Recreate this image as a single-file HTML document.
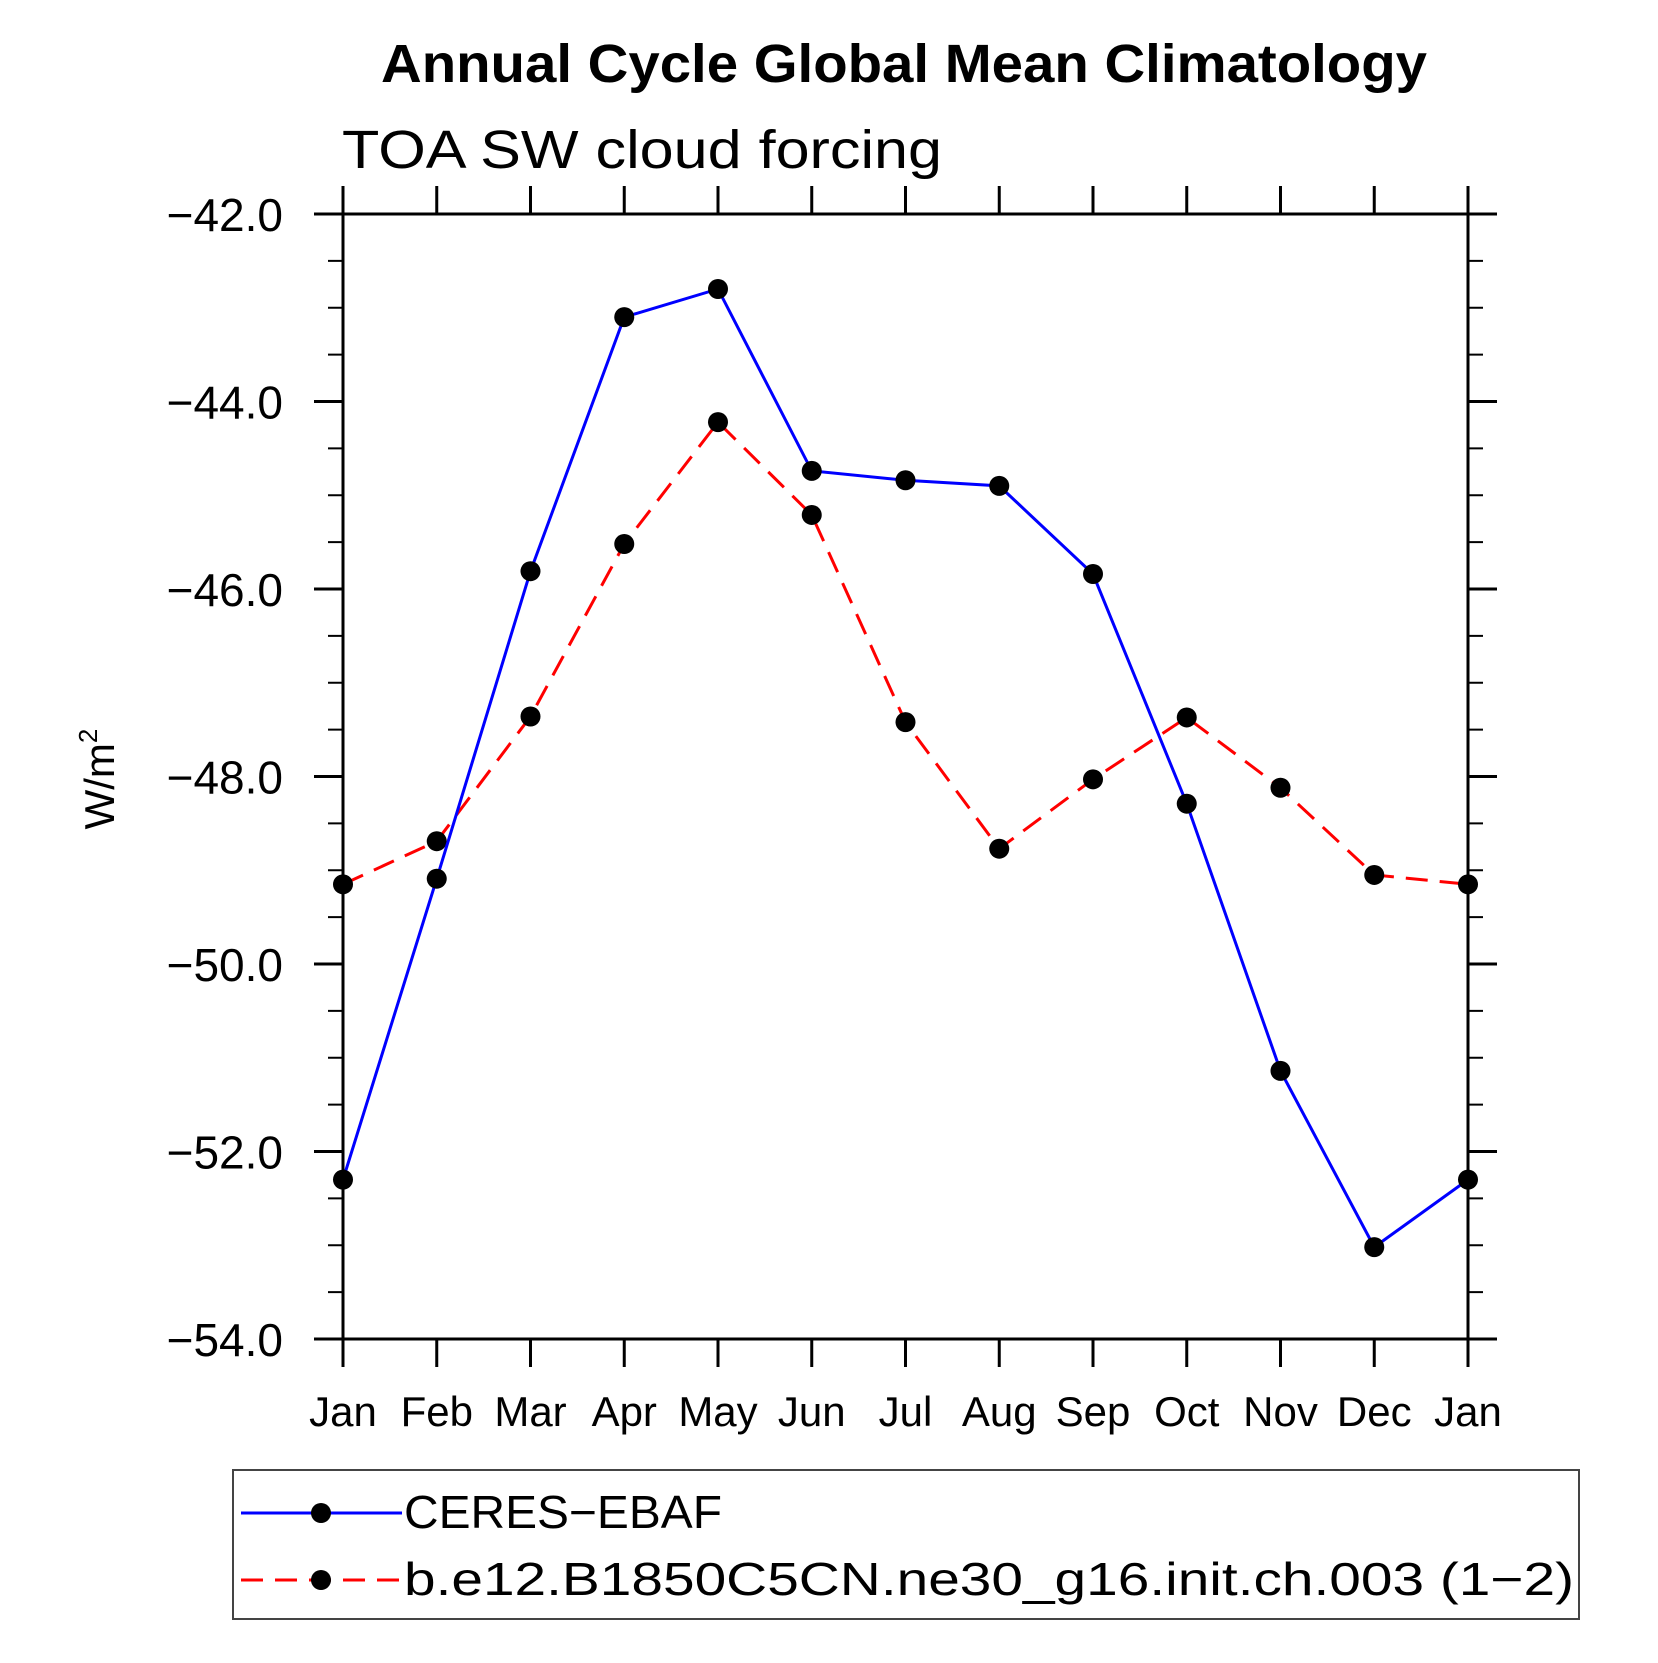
<!DOCTYPE html>
<html><head><meta charset="utf-8"><style>
html,body{margin:0;padding:0;background:#fff;}
svg text{font-family:"Liberation Sans",sans-serif;fill:#000;}
</style></head><body>
<svg id="chart" xmlns="http://www.w3.org/2000/svg" width="1658" height="1658" viewBox="0 0 1658 1658">
<rect width="1658" height="1658" fill="#fff"/>
<text x="904" y="82" text-anchor="middle" font-size="54" font-weight="bold" textLength="1046" lengthAdjust="spacingAndGlyphs">Annual Cycle Global Mean Climatology</text>
<text x="342" y="168" font-size="54" textLength="600" lengthAdjust="spacingAndGlyphs">TOA SW cloud forcing</text>
<text transform="translate(114,779) rotate(-90)" text-anchor="middle" font-size="42">W/m<tspan font-size="26" dy="-17">2</tspan></text>
<g id="axes"></g>
<g id="series"></g>
<rect x="233" y="1470" width="1346" height="149" fill="none" stroke="#444" stroke-width="2"/>
<g>
<line x1="241" y1="1513" x2="402" y2="1513" stroke="#0000ff" stroke-width="3"/>
<circle cx="321" cy="1513" r="10" fill="#000"/>
<text x="404" y="1528" font-size="46" textLength="318" lengthAdjust="spacingAndGlyphs">CERES−EBAF</text>
</g>
<g>
<line x1="241" y1="1580" x2="402" y2="1580" stroke="#ff0000" stroke-width="3" stroke-dasharray="22,12"/>
<circle cx="321" cy="1580" r="10" fill="#000"/>
<text x="404" y="1595" font-size="46" textLength="1170" lengthAdjust="spacingAndGlyphs">b.e12.B1850C5CN.ne30_g16.init.ch.003 (1−2)</text>
</g>
</svg>
<script>
const months = ["Jan","Feb","Mar","Apr","May","Jun","Jul","Aug","Sep","Oct","Nov","Dec","Jan"];
const ceresValues = [-52.30,-49.09,-45.81,-43.10,-42.80,-44.74,-44.84,-44.90,-45.84,-48.29,-51.14,-53.02,-52.30];
const modelValues = [-49.15,-48.69,-47.36,-45.52,-44.22,-45.21,-47.42,-48.77,-48.03,-47.37,-48.12,-49.05,-49.15];
const yTickValues = [-42,-44,-46,-48,-50,-52,-54];
const yTickLabels = ["−42.0","−44.0","−46.0","−48.0","−50.0","−52.0","−54.0"];

const NS="http://www.w3.org/2000/svg";
const L=343,R=1468,T=214,B=1339,yMin=-54,yMax=-42;
const xS=i=>L+(R-L)*i/(months.length-1);
const yS=v=>T+(yMax-v)/(yMax-yMin)*(B-T);
function mk(tag,attrs,parent){const e=document.createElementNS(NS,tag);for(const k in attrs)e.setAttribute(k,attrs[k]);parent.appendChild(e);return e;}
const axes=document.getElementById('axes');
const frame=mk('rect',{x:L,y:T,width:R-L,height:B-T,fill:'none',stroke:'#000','stroke-width':3},axes);


for(let v=yMin; v<=yMax+1e-9; v+=0.5){
  const y=yS(v); const major=Math.abs(v-Math.round(v/2)*2)<1e-6; const len=major?29:15;
  mk('line',{x1:L-len,y1:y,x2:L,y2:y,stroke:'#000','stroke-width':major?3:2},axes);
  mk('line',{x1:R,y1:y,x2:R+len,y2:y,stroke:'#000','stroke-width':major?3:2},axes);
}
yTickValues.forEach((v,i)=>{
  const t=mk('text',{x:283,y:yS(v)+17,'text-anchor':'end','font-size':46},axes);
  
  
  t.textContent=yTickLabels[i];
});
months.forEach((m,i)=>{
  const x=xS(i);
  mk('line',{x1:x,y1:B,x2:x,y2:B+28,stroke:'#000','stroke-width':3},axes);
  mk('line',{x1:x,y1:T-28,x2:x,y2:T,stroke:'#000','stroke-width':3},axes);
  const t=mk('text',{x:x,y:1426,'text-anchor':'middle','font-size':42},axes);
  
  
  t.textContent=m;
});
const series=document.getElementById('series');
function draw(vals,color,dash,name){
  const g=mk('g',{},series);
  
  
  const pts=vals.map((v,i)=>xS(i)+','+yS(v)).join(' ');
  const pl=mk('polyline',{points:pts,fill:'none',stroke:color,'stroke-width':3},g);
  if(dash)pl.setAttribute('stroke-dasharray',dash);
  vals.forEach((v,i)=>{
    const c=mk('circle',{cx:xS(i),cy:yS(v),r:10,fill:'#000'},g);
    
    
  });
}
draw(modelValues,'#ff0000','22,12','model-series');
draw(ceresValues,'#0000ff',null,'ceres-series');
</script>
</body></html>
